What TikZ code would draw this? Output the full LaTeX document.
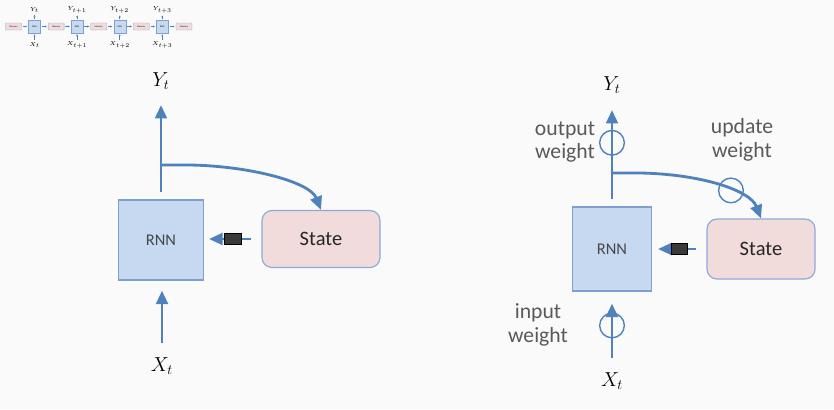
\documentclass[tikz,border=0pt]{standalone}
\usepackage{fontspec}
\setmainfont{Carlito}
\usetikzlibrary{arrows.meta, positioning}
\definecolor{arrowblue}{HTML}{4F81BD}
\definecolor{rnnfill}{HTML}{C6D9F1}
\definecolor{rnnline}{HTML}{7DA0D0}
\definecolor{statefill}{HTML}{F2DCDB}
\definecolor{stateline}{HTML}{8EAADB}
\definecolor{plugcol}{HTML}{3A3A3A}
\definecolor{bgcol}{HTML}{FAFAFA}
\definecolor{txtgray}{HTML}{595959}

\begin{document}
\begin{tikzpicture}[
    x=0.03cm, y=-0.03cm,
    rnnbox/.style={draw=rnnline, fill=rnnfill, line width=1pt, inner sep=0pt, text=txtgray!80!black, font=\fontsize{14}{16}\selectfont},
    statebox/.style={draw=stateline, fill=statefill, line width=1pt, rounded corners=0.3cm, inner sep=0pt, text=black!85, font=\fontsize{17.5}{20}\selectfont},
    flow/.style={draw=arrowblue, line width=2.4pt, -{Triangle[length=11.5pt, width=10pt]}},
    plug/.style={draw=black, fill=plugcol, line width=0.5pt, minimum width=0.5cm, minimum height=0.32cm, inner sep=0pt},
    weight/.style={draw=arrowblue, line width=1.2pt, circle, minimum size=0.74cm, inner sep=0pt},
    lbl/.style={font=\fontsize{18}{21}\selectfont},
    wlbl/.style={align=center, text=txtgray, font=\fontsize{18.5}{20}\selectfont},
    tmem/.style={draw=stateline, fill=statefill, line width=0.3pt, rounded corners=0.5pt, minimum width=0.48cm, minimum height=0.21cm, inner sep=0pt, font=\fontsize{2}{2.4}\selectfont},
    trnn/.style={draw=rnnline, fill=rnnfill, line width=0.3pt, minimum width=0.36cm, minimum height=0.39cm, inner sep=0pt, font=\fontsize{2}{2.4}\selectfont},
    tlbl/.style={inner sep=0.5pt, font=\fontsize{3.2}{3.8}\selectfont},
    tflow/.style={draw=arrowblue, line width=0.6pt, -{Triangle[length=1.6pt, width=1.6pt]}, shorten <=1pt, shorten >=1pt}
]
    \fill[bgcol] (0,0) rectangle (834,409);
    \useasboundingbox (0,0) rectangle (834,409);

    % Unrolled chain (thumbnail)
    \foreach \i/\s in {0/t,1/t+1,2/t+2,3/t+3} {
        \node[tmem] (m\i) at (13.5+42.6*\i,26.5) {Memory};
        \node[trnn] (r\i) at (34.5+42.6*\i,26.5) {RNN};
        \node[tlbl] (ty\i) at (34.5+42.6*\i,10) {$Y_{\s}$};
        \node[tlbl] (tx\i) at (34.5+42.6*\i,45) {$X_{\s}$};
        \draw[tflow] (m\i) -- (r\i);
        \draw[tflow] (r\i) -- (ty\i);
        \draw[tflow] (tx\i) -- (r\i);
    }
    \node[tmem] (m4) at (184,26.5) {Memory};
    \foreach \i [count=\j] in {0,...,3}
        \draw[tflow] (r\i) -- (m\j);

    % Left: plain recurrent cell
    \node[rnnbox, minimum width=2.55cm, minimum height=2.4cm] (rnnA) at (161,240) {RNN};
    \node[statebox, minimum width=3.54cm, minimum height=1.71cm] (stateA) at (321,239) {State};
    \node[lbl] (ytA) at (161,81) {$Y_t$};
    \node[lbl] (xtA) at (162,366) {$X_t$};
    \coordinate (topA) at (161,105);
    \coordinate (brA) at (161,165);
    \coordinate (botA) at (162,343);

    \draw[flow, shorten <=0.21cm] (rnnA.north) -- (rnnA.north |- topA);
    \draw[flow, shorten >=0.3cm] (botA) -- (botA |- rnnA.south);
    \draw[flow] (brA) -- ++(29,0) .. controls (250,166) and (310,182) .. (stateA.north);
    \draw[flow, shorten <=0.3cm, shorten >=0.15cm] (stateA.west) -- node[plug]{} (stateA.west -| rnnA.east);

    % Right: cell with weights
    \node[rnnbox, minimum width=2.37cm, minimum height=2.52cm] (rnnB) at (612,249) {RNN};
    \node[statebox, minimum width=3.24cm, minimum height=1.8cm] (stateB) at (761,249) {State};
    \node[lbl] (ytB) at (612,85) {$Y_t$};
    \node[lbl] (xtB) at (612,381) {$X_t$};
    \node[wlbl] (outW) at (565,142) {output\\weight};
    \node[wlbl] (updW) at (742,140) {update\\weight};
    \node[wlbl] (inW) at (538,325) {input\\weight};
    \coordinate (topB) at (612,110);
    \coordinate (brB) at (612,173);
    \coordinate (botB) at (612,358);

    \draw[flow, shorten <=0.21cm] (rnnB.north) -- node[weight, pos=0.66]{} (rnnB.north |- topB);
    \draw[flow, shorten >=0.36cm] (botB) -- node[weight, pos=0.49]{} (botB |- rnnB.south);
    \draw[flow] (brB) -- ++(28,0) .. controls (700,174) and (750,190) .. node[weight, pos=0.6]{} (stateB.north);
    \draw[flow, shorten <=0.3cm, shorten >=0.18cm] (stateB.west) -- node[plug]{} (stateB.west -| rnnB.east);
\end{tikzpicture}
\end{document}
